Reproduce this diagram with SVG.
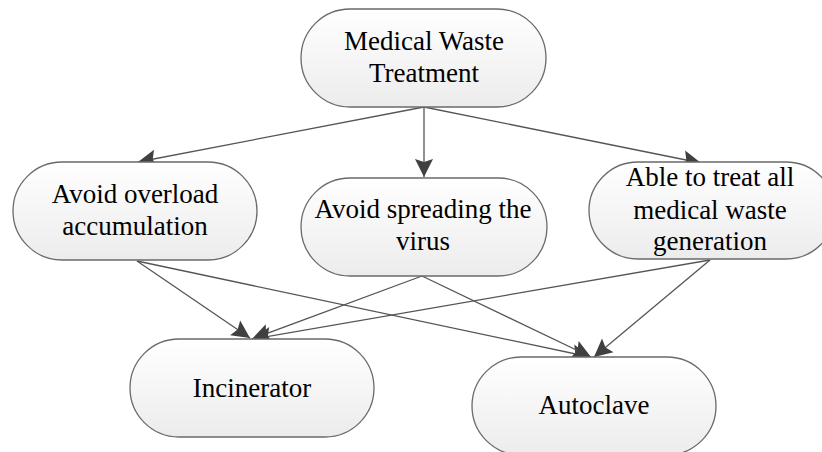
<svg xmlns="http://www.w3.org/2000/svg" width="822" height="452" viewBox="0 0 822 452">
<style>
.node rect{fill:url(#g);stroke:#6a6a6a;stroke-width:1.3}
.node text{font-family:"Liberation Serif","Times New Roman",serif;font-size:27px;fill:#000;text-anchor:middle}
.edges line{stroke:#555;stroke-width:1.3;marker-end:url(#arr)}
</style>
<defs>
<linearGradient id="g" x1="0" y1="0" x2="0" y2="1">
<stop offset="0" stop-color="#ffffff"/>
<stop offset="1" stop-color="#ececec"/>
</linearGradient>
<marker id="arr" markerUnits="userSpaceOnUse" markerWidth="22" markerHeight="22" viewBox="0 0 22 22" refX="20" refY="11" orient="auto">
<path d="M20,11 L2,2 L5,11 L2,20 Z" fill="#404040"/>
</marker>
</defs>
<rect width="822" height="452" fill="#fff"/>
<g class="edges">
<line x1="424" y1="107" x2="138" y2="162"/>
<line x1="424" y1="107" x2="424" y2="177"/>
<line x1="424" y1="107" x2="701" y2="163"/>
<line x1="137" y1="261" x2="250" y2="338"/>
<line x1="137" y1="261" x2="590" y2="357"/>
<line x1="422" y1="276" x2="252" y2="339"/>
<line x1="422" y1="276" x2="591" y2="357"/>
<line x1="710" y1="260" x2="253" y2="339"/>
<line x1="710" y1="260" x2="594" y2="357"/>
</g>
<g id="n-top" class="node">
<rect x="301" y="9" width="245" height="98" rx="49" ry="49"/>
<text x="424" y="50">Medical Waste</text>
<text x="424" y="82">Treatment</text>
</g>
<g id="n-overload" class="node">
<rect x="13" y="162" width="244" height="98" rx="49" ry="49"/>
<text x="135" y="203">Avoid overload</text>
<text x="135" y="235">accumulation</text>
</g>
<g id="n-virus" class="node">
<rect x="301" y="178" width="246" height="98" rx="49" ry="49"/>
<text x="423" y="218">Avoid spreading the</text>
<text x="423" y="250">virus</text>
</g>
<g id="n-all" class="node">
<rect x="589" y="162" width="246" height="97" rx="49" ry="49"/>
<text x="710" y="186">Able to treat all</text>
<text x="710" y="219">medical waste</text>
<text x="710" y="250">generation</text>
</g>
<g id="n-incinerator" class="node">
<rect x="130" y="339" width="244" height="98" rx="49" ry="49"/>
<text x="252" y="397">Incinerator</text>
</g>
<g id="n-autoclave" class="node">
<rect x="472" y="357" width="244" height="98" rx="49" ry="49"/>
<text x="594" y="414">Autoclave</text>
</g>
</svg>
